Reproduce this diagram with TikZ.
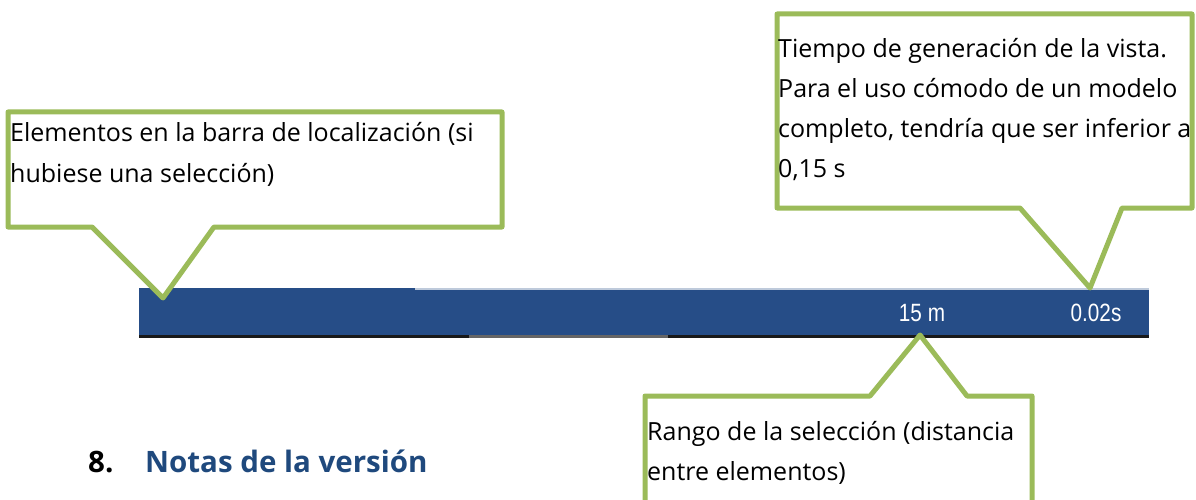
\documentclass[tikz,border=0pt]{standalone}
\usepackage{fontspec}
\setmainfont{Open Sans}
\newfontfamily\barfont{Liberation Sans}
\definecolor{callgreen}{HTML}{9BBB59}
\definecolor{barblue}{HTML}{264D87}
\definecolor{headblue}{HTML}{1F497D}
\newcommand{\clines}[1]{\begin{tabular}[t]{@{}l@{}}#1\end{tabular}}
\begin{document}
\begin{tikzpicture}[x=1pt,y=-1pt,
  callout/.style={draw=callgreen,line width=5pt,line join=round,fill=white},
  ctext/.style={anchor=base west,inner sep=0pt,font=\fontsize{25}{40}\selectfont,text=black},
  bartext/.style={text=white,inner sep=0pt,font=\barfont\fontsize{25}{28}\selectfont}]
\useasboundingbox (0,0) rectangle (1196,500);
\clip (0,0) rectangle (1196,500);
% status bar
\fill[barblue] (139,288) rectangle (1149,335);
\fill[black!90] (139,335) rectangle (1149,338);
\fill[black!60] (469,335) rectangle (668,338);
\draw[line width=1.5pt,draw=white!70!barblue] (415,289) -- (1149,289);
\node[bartext] (dist) at (922,313) {\scalebox{0.83}[1]{15 m}};
\node[bartext] (time) at (1096,313) {\scalebox{0.83}[1]{0.02s}};
% pointer targets
\coordinate (tipA) at (163,298);
\coordinate (tipB) at (1090,288);
\coordinate (tipC) at (920,335);
% callout 1
\draw[callout] (8,112) -- (502,112) -- (502,227) -- (214,227) -- (tipA) -- (92,227) -- (8,227) -- cycle;
\node[ctext] (t1) at (10,142) {\clines{Elementos en la barra de localización (si\\hubiese una selección)}};
% callout 2
\draw[callout] (777,14) -- (1192,14) -- (1192,208) -- (1122,208) -- (tipB) -- (1020,208) -- (777,208) -- cycle;
\node[ctext] (t2) at (778,58) {\clines{Tiempo de generación de la vista.\\Para el uso cómodo de un modelo\\completo, tendría que ser inferior a\\0,15 s}};
% callout 3
\draw[callout] (645,396) -- (870,396) -- (tipC) -- (967,396) -- (1032,396) -- (1032,520) -- (645,520) -- cycle;
\node[ctext] (t3) at (647,440) {\clines{Rango de la selección (distancia\\entre elementos)}};
% heading
\node[anchor=base west,inner sep=0pt,font=\bfseries\fontsize{29.5}{32}\selectfont] (num) at (88,472) {8.};
\node[anchor=base west,inner sep=0pt,text=headblue,font=\bfseries\fontsize{29.5}{32}\selectfont] (head) at (145,472) {Notas de la versión};
\end{tikzpicture}
\end{document}
